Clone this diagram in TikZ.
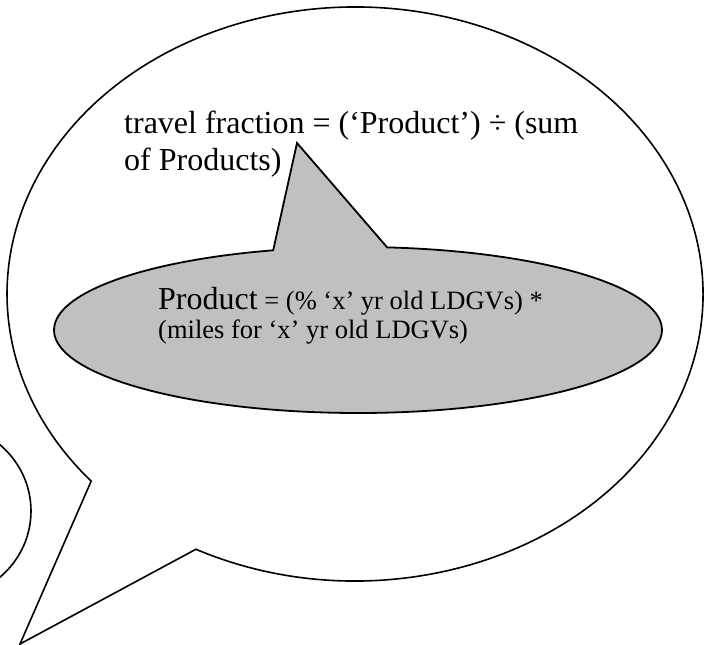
\documentclass[tikz,border=0pt]{standalone}
\usepackage{fontspec}
\setmainfont{Liberation Serif}
\begin{document}
\begin{tikzpicture}[x=1pt,y=-1pt,
  bubble/.style={draw=black,line width=1.6pt,line join=miter},
  graybubble/.style={draw=black,line width=1.8pt,fill=graybub,line join=miter},
  bigtext/.style={anchor=base west,inner sep=0pt,font=\fontsize{32}{36}\selectfont},
  smalltext/.style={anchor=base west,inner sep=0pt,font=\fontsize{26.5}{30}\selectfont}]
\definecolor{graybub}{RGB}{192,192,192}
\useasboundingbox (0,0) rectangle (710,645);
\begin{scope}
\clip (0,0) rectangle (710,645);
% partial bubble at the left edge
\draw[bubble] (-60,511) ellipse [x radius=91, y radius=88];
% big speech bubble
\coordinate (bigc) at (355,294);
\coordinate (bigtip) at (20,644);
\draw[bubble,fill=white] (bigc) ++(117.2:348 and 287)
  arc[start angle=117.2, end angle=-220.7, x radius=348, y radius=287]
  -- (bigtip) -- cycle;
% gray bubble
\coordinate (grayc) at (358,330);
\coordinate (graytip) at (297,143);
\draw[graybubble] (grayc) ++(-84.5:304 and 83)
  arc[start angle=-84.5, end angle=253.8, x radius=304, y radius=83]
  -- (graytip) -- cycle;
\end{scope}
\node[bigtext] (t1) at (124,133) {travel fraction = (‘Product’) ÷ (sum};
\node[bigtext] (t2) at (124,170) {of Products)};
\node[anchor=base west,inner sep=0pt] (p1) at (158,309)
  {\fontsize{32}{36}\selectfont Product\fontsize{26.5}{30}\selectfont{} = (\% ‘x’ yr old LDGVs) *};
\node[smalltext] (p2) at (158,338) {(miles for ‘x’ yr old LDGVs)};
\end{tikzpicture}
\end{document}
